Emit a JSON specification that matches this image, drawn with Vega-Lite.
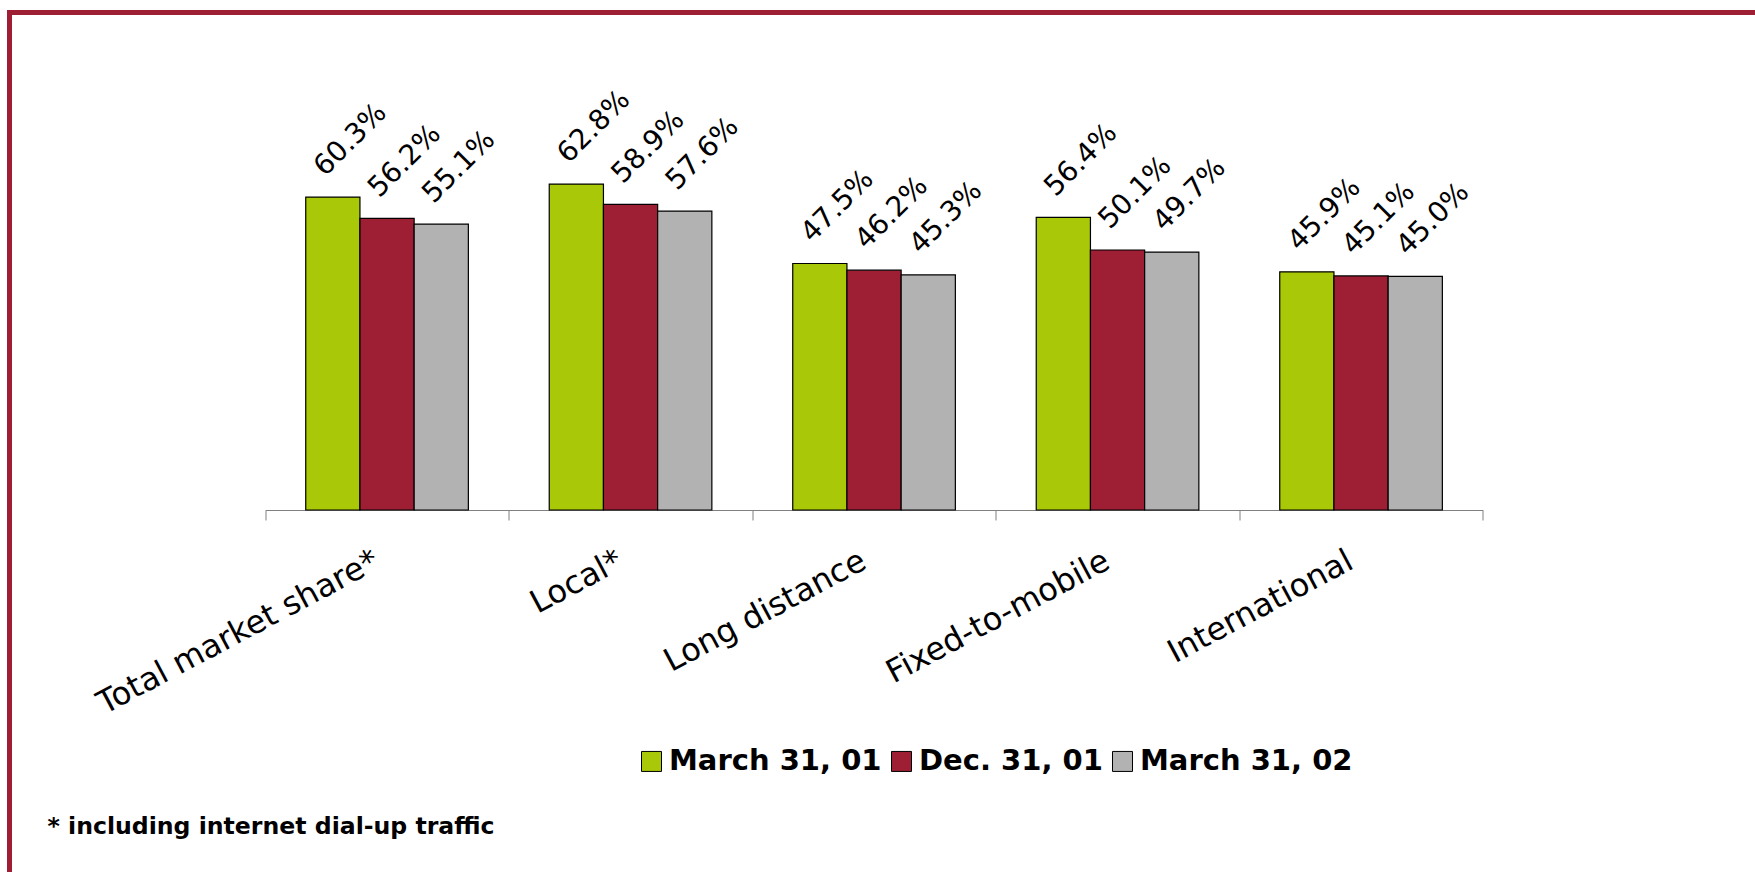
{
  "$schema": "https://vega.github.io/schema/vega-lite/v6.json",
  "width": 1745.5,
  "height": 859.5,
  "autosize": {"type": "none"},
  "padding": {"left": 9.5, "top": 12.5, "right": 0, "bottom": 0},
  "background": "white",
  "view": {"stroke": "#9E1F34", "strokeWidth": 5, "strokeDash": [1745.5, 2605, 859.5], "fill": null},
  "config": {"font": "DejaVu Sans"},
  "data": {
    "values": [
      {"category": "Total market share*", "series": "March 31, 01", "value": 0.603},
      {"category": "Total market share*", "series": "Dec. 31, 01", "value": 0.562},
      {"category": "Total market share*", "series": "March 31, 02", "value": 0.551},
      {"category": "Local*", "series": "March 31, 01", "value": 0.628},
      {"category": "Local*", "series": "Dec. 31, 01", "value": 0.589},
      {"category": "Local*", "series": "March 31, 02", "value": 0.576},
      {"category": "Long distance", "series": "March 31, 01", "value": 0.475},
      {"category": "Long distance", "series": "Dec. 31, 01", "value": 0.462},
      {"category": "Long distance", "series": "March 31, 02", "value": 0.453},
      {"category": "Fixed-to-mobile", "series": "March 31, 01", "value": 0.564},
      {"category": "Fixed-to-mobile", "series": "Dec. 31, 01", "value": 0.501},
      {"category": "Fixed-to-mobile", "series": "March 31, 02", "value": 0.497},
      {"category": "International", "series": "March 31, 01", "value": 0.459},
      {"category": "International", "series": "Dec. 31, 01", "value": 0.451},
      {"category": "International", "series": "March 31, 02", "value": 0.450}
    ]
  },
  "encoding": {
    "x": {
      "field": "category",
      "type": "nominal",
      "sort": ["Total market share*", "Local*", "Long distance", "Fixed-to-mobile", "International"],
      "scale": {"range": [255.8, 1473.3], "paddingInner": 0, "paddingOuter": 0},
      "axis": {
        "orient": "bottom",
        "offset": -362,
        "tickBand": "extent",
        "tickSize": 10,
        "tickColor": "#808080",
        "tickWidth": 1,
        "domainColor": "#808080",
        "domainWidth": 1,
        "grid": false,
        "labelAngle": 332,
        "labelAlign": "right",
        "labelBaseline": "top",
        "labelPadding": 25,
        "labelOffset": -18,
        "labelFont": "DejaVu Sans",
        "labelFontSize": 32,
        "labelFontWeight": "normal",
        "labelColor": "black",
        "labelLimit": 0,
        "labelOverlap": false,
        "labelBound": false,
        "title": "* including internet dial-up traffic",
        "titleX": 37.5,
        "titleY": 323,
        "titleAlign": "left",
        "titleBaseline": "alphabetic",
        "titleAngle": 0,
        "titleFont": "DejaVu Sans",
        "titleFontSize": 23.6,
        "titleFontWeight": "bold",
        "titleColor": "black"
      }
    },
    "xOffset": {
      "field": "series",
      "type": "nominal",
      "sort": ["March 31, 01", "Dec. 31, 01", "March 31, 02"],
      "scale": {"paddingInner": 0, "paddingOuter": 0.746}
    },
    "y": {
      "field": "value",
      "type": "quantitative",
      "scale": {"domain": [0, 0.7], "range": [497.5, 134.2], "nice": false, "zero": true},
      "axis": null
    }
  },
  "layer": [
    {
      "mark": {"type": "bar", "stroke": "black", "strokeWidth": 1.2},
      "encoding": {
        "color": {
          "field": "series",
          "type": "nominal",
          "scale": {"domain": ["March 31, 01", "Dec. 31, 01", "March 31, 02"], "range": ["#A8C808", "#9E1F34", "#B2B2B2"]},
          "legend": {
            "orient": "none",
            "legendX": 627.5,
            "legendY": 734.2,
            "direction": "horizontal",
            "title": null,
            "padding": 0,
            "symbolType": "square",
            "symbolSize": 400,
            "symbolStrokeColor": "black",
            "symbolStrokeWidth": 1,
            "symbolOpacity": 1,
            "labelFont": "DejaVu Sans",
            "labelFontSize": 29,
            "labelFontWeight": "bold",
            "labelColor": "black",
            "labelOffset": 3,
            "labelLimit": 0,
            "columnPadding": 5
          }
        }
      }
    },
    {
      "mark": {"type": "text", "angle": 315, "align": "center", "baseline": "middle", "dx": 53, "dy": -27.6, "font": "DejaVu Sans", "fontSize": 28, "fontWeight": "normal", "color": "black"},
      "encoding": {
        "text": {"field": "value", "type": "quantitative", "format": ".1%"}
      }
    }
  ]
}
